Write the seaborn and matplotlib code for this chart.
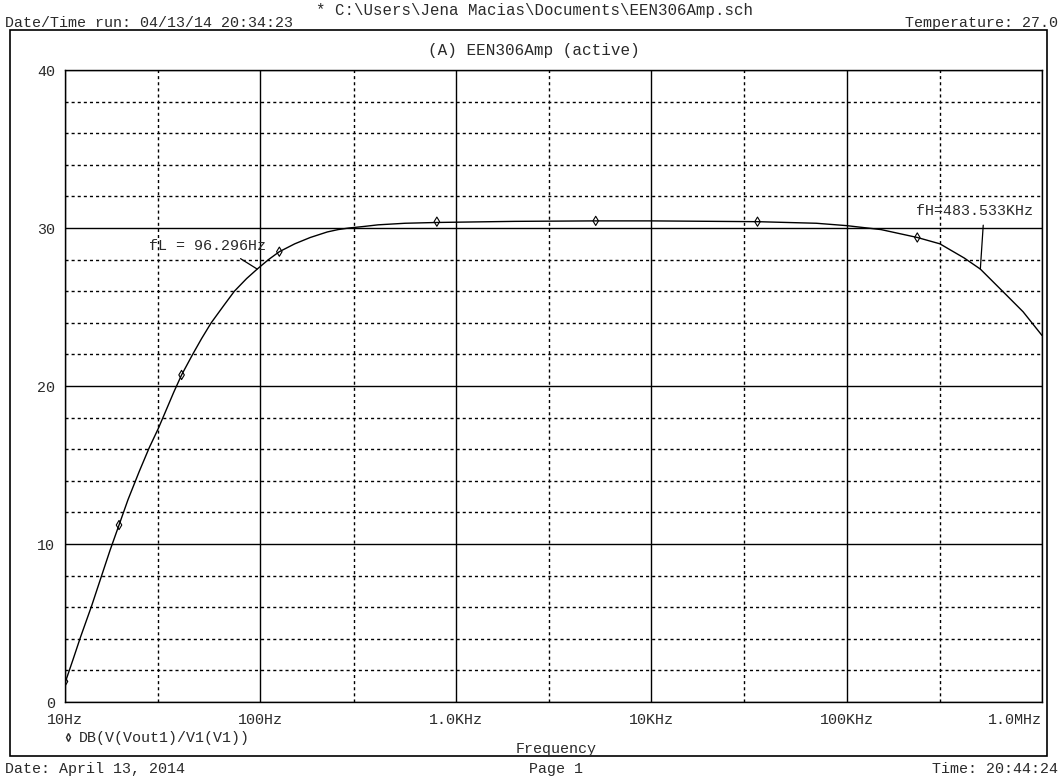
import numpy as np
import pandas as pd
import matplotlib
matplotlib.use("Agg")
import matplotlib.pyplot as plt
import seaborn as sns
from matplotlib.ticker import FixedLocator, NullFormatter
from matplotlib.patches import Rectangle
from matplotlib.lines import Line2D

# ---- data ----
freq_hz = [10, 11, 12, 13.7, 15.4, 17, 18.9, 21, 24, 27, 30, 33, 36, 39.5, 45, 50, 56,
           65, 73.6, 85, 96.3, 110, 125, 150, 180, 220, 250, 284, 340, 400, 550, 800,
           2000, 5200, 10000, 35000, 70000, 100000, 150000, 230000, 300000, 400000,
           483533, 640000, 800000, 1000000]
gain_db = [1.2, 2.7, 4.1, 6.1, 8.0, 9.6, 11.2, 12.8, 14.6, 16.1, 17.3, 18.5, 19.6, 20.7,
           22.0, 23.0, 24.0, 25.1, 26.0, 26.8, 27.4, 28.0, 28.5, 29.0, 29.4, 29.75,
           29.9, 30.0, 30.1, 30.2, 30.3, 30.35, 30.42, 30.45, 30.45, 30.4, 30.3, 30.15,
           29.9, 29.4, 29.0, 28.1, 27.4, 25.9, 24.7, 23.2]
marker_freq_hz = [10, 18.9, 39.5, 125, 800, 5200, 35000, 230000]
marker_gain_db = [1.3, 11.2, 20.7, 28.5, 30.4, 30.45, 30.4, 29.4]

x_tick_values = [10, 100, 1e3, 1e4, 1e5, 1e6]
x_tick_labels = ["10Hz", "100Hz", "1.0KHz", "10KHz", "100KHz", "1.0MHz"]
x_minor_values = [30, 300, 3e3, 3e4, 3e5]
y_tick_values = [0, 10, 20, 30, 40]
y_minor_values = [v for v in range(2, 40, 2) if v % 10 != 0]

fL_hz, fL_db, fL_text = 96.296, 27.4, "fL = 96.296Hz"
fH_hz, fH_db, fH_text = 483533, 27.4, "fH=483.533KHz"

W, H = 1063, 781
TXT = "#2a2a2a"
FS = 10.8

sns.set_theme(style="white")
plt.rcParams["font.family"] = ["Liberation Mono", "DejaVu Sans Mono"]
plt.rcParams["font.size"] = FS

fig = plt.figure(figsize=(W / 100, H / 100), dpi=100)
fig.patch.set_facecolor("white")

def fx(px):
    return px / W

def fy(py):
    return 1 - py / H

ax = fig.add_axes([fx(65), fy(702), fx(1042) - fx(65), fy(70) - fy(702)])
ax.set_facecolor("white")

df = pd.DataFrame({"freq": freq_hz, "gain": gain_db})
sns.lineplot(data=df, x="freq", y="gain", ax=ax, color="black", linewidth=1.0,
             sort=False, zorder=5)
mk = pd.DataFrame({"freq": marker_freq_hz, "gain": marker_gain_db})
sns.scatterplot(data=mk, x="freq", y="gain", ax=ax, marker="d", s=22,
                facecolor="none", edgecolor="black", linewidth=0.8, zorder=6)

ax.set_xscale("log")
ax.set_xlim(10, 1e6)
ax.set_ylim(0, 40)
ax.xaxis.set_major_locator(FixedLocator(x_tick_values))
ax.xaxis.set_minor_locator(FixedLocator(x_minor_values))
ax.xaxis.set_minor_formatter(NullFormatter())
ax.set_xticklabels(x_tick_labels)
ax.yaxis.set_major_locator(FixedLocator(y_tick_values))
ax.yaxis.set_minor_locator(FixedLocator(y_minor_values))
ax.set_yticklabels([str(v) for v in y_tick_values])

ax.grid(which="major", color="black", linewidth=1.0, linestyle="-")
ax.grid(which="minor", color="black", linewidth=1.0, linestyle=(0, (2.2, 2.2)))
ax.tick_params(which="major", direction="out", length=5, width=1, color="black",
               labelsize=FS, labelcolor=TXT, pad=2)
ax.tick_params(axis="x", which="major", pad=3)
ax.tick_params(which="minor", length=0)
ax.set_xlabel("")
ax.set_ylabel("")
for s in ax.spines.values():
    s.set_color("black")
    s.set_linewidth(1.0)
labels = ax.get_xticklabels()
labels[-1].set_ha("right")

# annotations
ax.annotate(fL_text, xy=(fL_hz, fL_db), xytext=(-36, 16.5), textcoords="offset points",
            ha="center", va="center", color=TXT, fontsize=FS,
            arrowprops=dict(arrowstyle="-", color="black", lw=0.9,
                            relpos=(0.71, 0.0), shrinkA=3, shrinkB=0), zorder=7)
ax.annotate(fH_text, xy=(fH_hz, fH_db), xytext=(-4.3, 42), textcoords="offset points",
            ha="center", va="center", color=TXT, fontsize=FS,
            arrowprops=dict(arrowstyle="-", color="black", lw=0.9,
                            relpos=(0.58, 0.0), shrinkA=3, shrinkB=0), zorder=7)

# outer frame
fig.add_artist(Rectangle((fx(10), fy(756)), fx(1047) - fx(10), fy(30) - fy(756),
                         transform=fig.transFigure, fill=False, edgecolor="black",
                         linewidth=1.2))

# header / footer texts
fig.text(fx(534), fy(11), r"* C:\Users\Jena Macias\Documents\EEN306Amp.sch",
         ha="center", va="center", color=TXT, fontsize=11.3)
fig.text(fx(5), fy(23), "Date/Time run: 04/13/14 20:34:23", ha="left", va="center",
         color=TXT, fontsize=FS)
fig.text(fx(1058), fy(23), "Temperature: 27.0", ha="right", va="center",
         color=TXT, fontsize=FS)
fig.text(fx(534), fy(50), "(A) EEN306Amp (active)", ha="center", va="center",
         color=TXT, fontsize=11.5)
fig.add_artist(Line2D([fx(68)], [fy(737)], marker="d", markersize=4,
                      markerfacecolor="none", markeredgecolor=TXT, linewidth=0,
                      transform=fig.transFigure))
fig.text(fx(79), fy(738), "DB(V(Vout1)/V1(V1))", ha="left", va="center",
         color=TXT, fontsize=FS)
fig.text(fx(556), fy(749), "Frequency", ha="center", va="center",
         color=TXT, fontsize=FS)
fig.text(fx(5), fy(769), "Date: April 13, 2014", ha="left", va="center",
         color=TXT, fontsize=FS)
fig.text(fx(556), fy(769), "Page 1", ha="center", va="center",
         color=TXT, fontsize=FS)
fig.text(fx(1058), fy(769), "Time: 20:44:24", ha="right", va="center",
         color=TXT, fontsize=FS)

fig.savefig("out.png", dpi=100, facecolor="white")
